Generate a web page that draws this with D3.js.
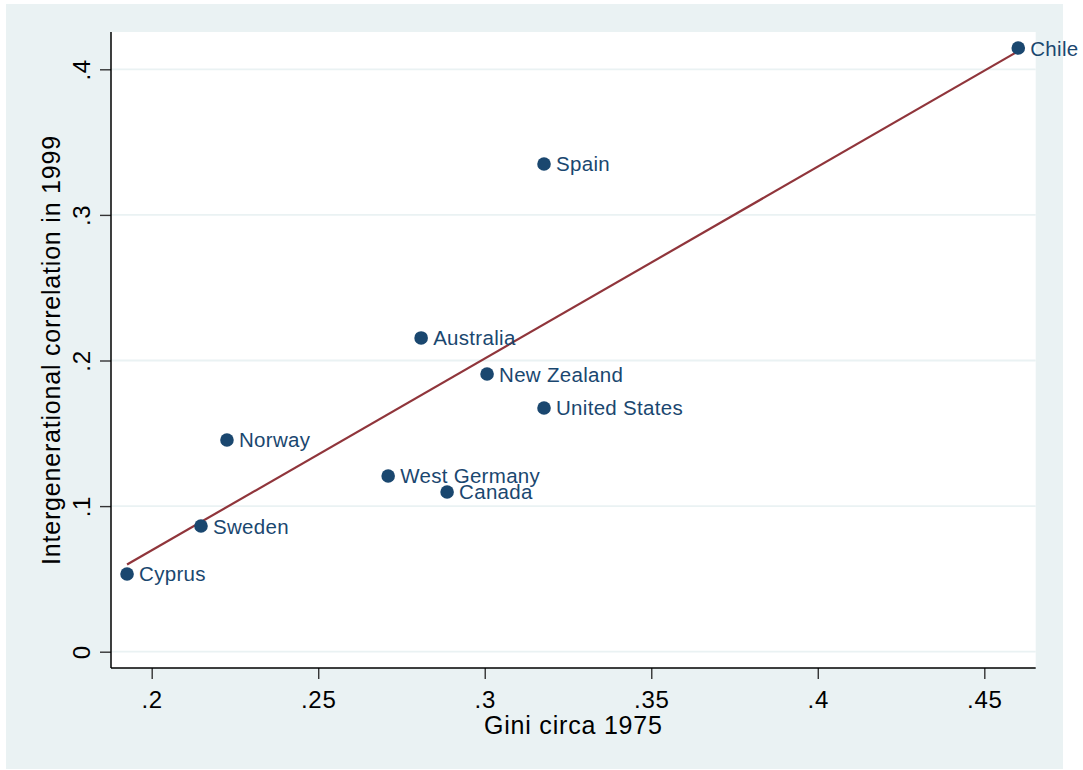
<!DOCTYPE html>
<html>
<head>
<meta charset="utf-8">
<script src="https://cdn.jsdelivr.net/npm/d3@7"></script>
<style>
  html, body { margin: 0; padding: 0; background: #ffffff; }
  svg { display: block; font-family: "Liberation Sans", Arial, sans-serif; }
</style>
</head>
<body>
<svg id="chart" width="1083" height="770"></svg>
<script>
// ---- data ----
const countries = ["Chile", "Spain", "Australia", "New Zealand", "United States",
                   "Norway", "West Germany", "Canada", "Sweden", "Cyprus"];
const gini1975 = [0.4602, 0.3178, 0.2809, 0.3007, 0.3178, 0.2226, 0.2710, 0.2887, 0.2148, 0.1926];
const igCorr1999 = [0.4146, 0.3350, 0.2155, 0.1907, 0.1674, 0.1454, 0.1207, 0.1097, 0.0863, 0.0534];
const xTicks = [0.2, 0.25, 0.3, 0.35, 0.4, 0.45];
const yTicks = [0, 0.1, 0.2, 0.3, 0.4];
const xTickLabels = [".2", ".25", ".3", ".35", ".4", ".45"];
const yTickLabels = ["0", ".1", ".2", ".3", ".4"];
const xTitle = "Gini circa 1975";
const yTitle = "Intergenerational correlation in 1999";

// ---- layout ----
const plot = { left: 111, right: 1035.7, top: 32, bottom: 668 };
const bg = "#EAF2F3", navy = "#1A476F", maroon = "#90353B";
const FF = "Liberation Sans, Arial, sans-serif";

const svg = d3.select("#chart");

// outer background
svg.append("rect").attr("x", 6).attr("y", 4).attr("width", 1057).attr("height", 765).attr("fill", bg);
// plot region
svg.append("rect").attr("x", plot.left).attr("y", plot.top)
  .attr("width", plot.right - plot.left).attr("height", plot.bottom - plot.top).attr("fill", "#ffffff");

const x = d3.scaleLinear().domain([0.2, 0.45]).range([151.7, 984.3]);
const y = d3.scaleLinear().domain([0, 0.4]).range([651.7, 69.3]);

// gridlines
svg.append("g").selectAll("line").data(yTicks).join("line")
  .attr("x1", plot.left).attr("x2", plot.right)
  .attr("y1", d => y(d)).attr("y2", d => y(d))
  .attr("stroke", bg).attr("stroke-width", 1.8);

// x axis
const xAxis = d3.axisBottom(x).tickValues(xTicks).tickSize(11).tickPadding(12)
  .tickFormat((d, i) => xTickLabels[i]);
const gx = svg.append("g").attr("transform", `translate(0,${plot.bottom})`).call(xAxis);
gx.select(".domain").remove();
gx.selectAll(".tick line").attr("stroke", "#333").attr("stroke-width", 1.4);
gx.selectAll(".tick text").attr("font-size", 24).attr("fill", "#000")
  .attr("font-family", FF).attr("letter-spacing", 0.7);
svg.append("line").attr("x1", plot.left).attr("x2", plot.right)
  .attr("y1", plot.bottom).attr("y2", plot.bottom).attr("stroke", "#000").attr("stroke-width", 1.5);

// y axis
const yAxis = d3.axisLeft(y).tickValues(yTicks).tickSize(11).tickPadding(0)
  .tickFormat((d, i) => yTickLabels[i]);
const gy = svg.append("g").attr("transform", `translate(${plot.left},0)`).call(yAxis);
gy.select(".domain").remove();
gy.selectAll(".tick line").attr("stroke", "#333").attr("stroke-width", 1.4);
gy.selectAll(".tick text")
  .attr("font-size", 24).attr("fill", "#000")
  .attr("font-family", FF).attr("letter-spacing", 0.7)
  .attr("x", 0).attr("dy", null).attr("y", 0)
  .attr("text-anchor", "middle")
  .attr("transform", "translate(-21,0) rotate(-90)");
svg.append("line").attr("x1", plot.left).attr("x2", plot.left)
  .attr("y1", plot.top).attr("y2", plot.bottom).attr("stroke", "#000").attr("stroke-width", 1.5);

// axis titles
svg.append("text").attr("x", (plot.left + plot.right) / 2).attr("y", 734)
  .attr("text-anchor", "middle").attr("font-size", 25).attr("letter-spacing", 0.8)
  .attr("fill", "#000").text(xTitle);
svg.append("text").attr("transform", `translate(60,${(plot.top + plot.bottom) / 2}) rotate(-90)`)
  .attr("text-anchor", "middle").attr("font-size", 25).attr("letter-spacing", 0.8)
  .attr("fill", "#000").text(yTitle);

// data
const data = countries.map((c, i) => ({ name: c, gx: gini1975[i], gy: igCorr1999[i] }));

// linear fit (OLS)
const mx = d3.mean(gini1975), my = d3.mean(igCorr1999);
const sxy = d3.sum(data, d => (d.gx - mx) * (d.gy - my));
const sxx = d3.sum(data, d => (d.gx - mx) ** 2);
const b = sxy / sxx, a = my - b * mx;
const [xmin, xmax] = d3.extent(gini1975);
const fit = [xmin, xmax].map(v => ({ gx: v, gy: a + b * v }));
svg.append("path").datum(fit)
  .attr("d", d3.line().x(d => x(d.gx)).y(d => y(d.gy)))
  .attr("stroke", maroon).attr("stroke-width", 2.2).attr("fill", "none");

// points
svg.append("g").selectAll("circle").data(data).join("circle")
  .attr("cx", d => x(d.gx)).attr("cy", d => y(d.gy)).attr("r", 6.8).attr("fill", navy);

// labels
svg.append("g").selectAll("text").data(data).join("text")
  .attr("x", d => x(d.gx) + 12).attr("y", d => y(d.gy) + 7.5)
  .attr("font-size", 20.5).attr("letter-spacing", 0.3)
  .attr("fill", navy).text(d => d.name);
</script>
</body>
</html>
